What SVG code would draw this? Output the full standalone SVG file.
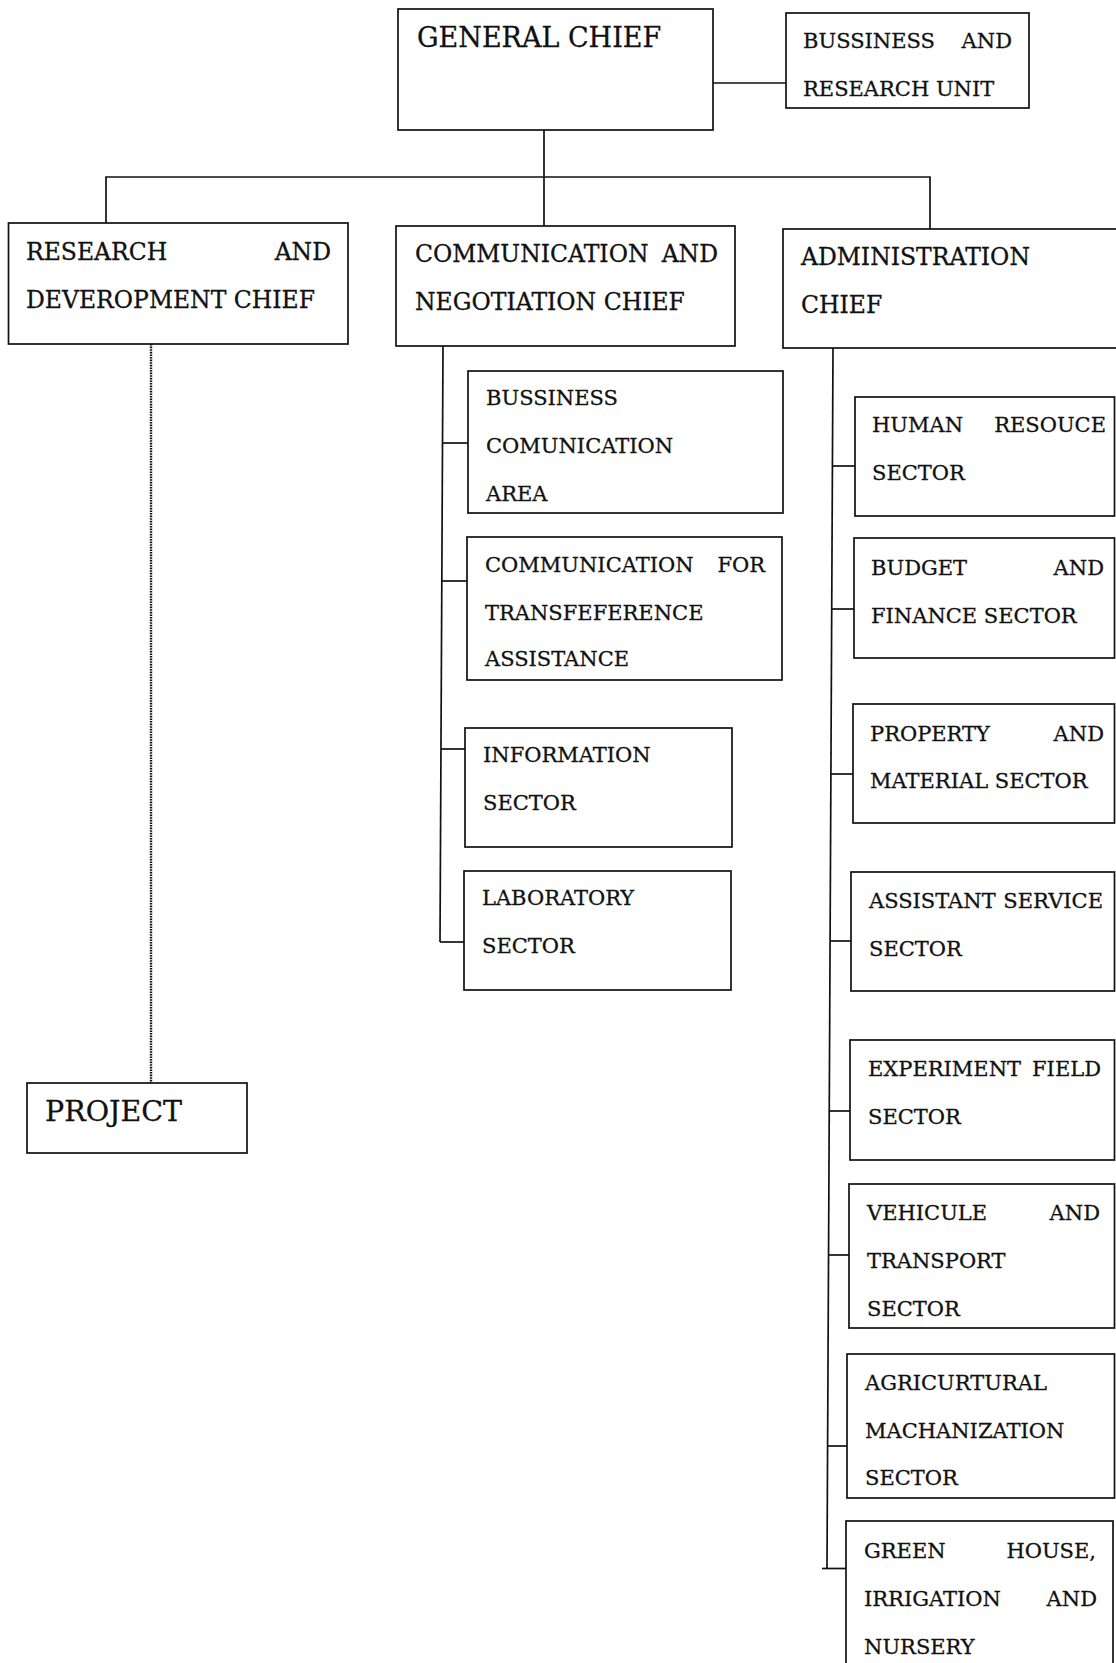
<svg xmlns="http://www.w3.org/2000/svg" width="1116" height="1663" viewBox="0 0 1116 1663">
<style>
  .box { fill: #ffffff; stroke: #111111; stroke-width: 1.7; }
  .ln { fill: none; stroke: #111111; stroke-width: 1.7; }
  .dot { fill: none; stroke: #111111; stroke-width: 2.4; stroke-dasharray: 1.6 1; }
  text { font-family: "DejaVu Serif", "Liberation Serif", serif; fill: #111111; stroke: #111111; stroke-width: 0.3; }
  .big { font-size: 27px; }
  .proj { font-size: 28.5px; }
  .chief { font-size: 23.5px; }
  .sub { font-size: 21px; }
  .r { text-anchor: end; }
</style>
<rect width="1116" height="1663" fill="#ffffff"/>

<g id="connectors">
  <line class="ln" x1="713" y1="83" x2="786" y2="83"/>
  <line class="ln" x1="544" y1="130" x2="544" y2="226"/>
  <polyline class="ln" points="106,223 106,177 930,177 930,229"/>
  <line class="dot" x1="151" y1="344" x2="151" y2="1083"/>
  <line class="ln" x1="443" y1="346" x2="440" y2="942"/>
  <line class="ln" x1="443" y1="443" x2="468" y2="443"/>
  <line class="ln" x1="442" y1="581" x2="467" y2="581"/>
  <line class="ln" x1="441" y1="749" x2="465" y2="749"/>
  <line class="ln" x1="440" y1="942" x2="464" y2="942"/>
  <line class="ln" x1="833" y1="348" x2="827" y2="1569"/>
  <line class="ln" x1="832.4" y1="466" x2="855" y2="466"/>
  <line class="ln" x1="831.7" y1="609" x2="854" y2="609"/>
  <line class="ln" x1="830.9" y1="774" x2="853" y2="774"/>
  <line class="ln" x1="830.1" y1="941" x2="851" y2="941"/>
  <line class="ln" x1="829.2" y1="1111" x2="850" y2="1111"/>
  <line class="ln" x1="828.5" y1="1255" x2="849" y2="1255"/>
  <line class="ln" x1="827.6" y1="1446" x2="847" y2="1446"/>
  <line class="ln" x1="822" y1="1568.5" x2="846" y2="1568.5"/>
</g>

<g id="general-chief">
  <rect class="box" x="398" y="9" width="315" height="121"/>
  <text class="big" x="417" y="47">GENERAL CHIEF</text>
</g>

<g id="business-research-unit">
  <rect class="box" x="786" y="13" width="243" height="95"/>
  <text class="sub" x="803" y="48">BUSSINESS</text>
  <text class="sub r" x="1012" y="48">AND</text>
  <text class="sub" x="803" y="96">RESEARCH UNIT</text>
</g>

<g id="research-development-chief">
  <rect class="box" x="8.5" y="223" width="339.5" height="121"/>
  <text class="chief" x="26" y="260">RESEARCH</text>
  <text class="chief r" x="331" y="260">AND</text>
  <text class="chief" x="26" y="308">DEVEROPMENT CHIEF</text>
</g>

<g id="communication-negotiation-chief">
  <rect class="box" x="396" y="226" width="339" height="120"/>
  <text class="chief" x="415" y="262">COMMUNICATION</text>
  <text class="chief r" x="718" y="262">AND</text>
  <text class="chief" x="415" y="310">NEGOTIATION CHIEF</text>
</g>

<g id="administration-chief">
  <rect class="box" x="783" y="229" width="340" height="119"/>
  <text class="chief" x="801" y="265">ADMINISTRATION</text>
  <text class="chief" x="801" y="313">CHIEF</text>
</g>

<g id="project">
  <rect class="box" x="27" y="1083" width="220" height="70"/>
  <text class="proj" x="45" y="1121">PROJECT</text>
</g>

<g id="business-communication-area">
  <rect class="box" x="468" y="371" width="315" height="142"/>
  <text class="sub" x="486" y="405">BUSSINESS</text>
  <text class="sub" x="486" y="453">COMUNICATION</text>
  <text class="sub" x="486" y="501">AREA</text>
</g>

<g id="communication-transference-assistance">
  <rect class="box" x="467" y="537" width="315" height="143"/>
  <text class="sub" x="485" y="572">COMMUNICATION</text>
  <text class="sub r" x="765" y="572">FOR</text>
  <text class="sub" x="485" y="620">TRANSFEFERENCE</text>
  <text class="sub" x="485" y="666">ASSISTANCE</text>
</g>

<g id="information-sector">
  <rect class="box" x="465" y="728" width="267" height="119"/>
  <text class="sub" x="483" y="762">INFORMATION</text>
  <text class="sub" x="483" y="810">SECTOR</text>
</g>

<g id="laboratory-sector">
  <rect class="box" x="464" y="871" width="267" height="119"/>
  <text class="sub" x="482" y="905">LABORATORY</text>
  <text class="sub" x="482" y="953">SECTOR</text>
</g>

<g id="human-resouce-sector">
  <rect class="box" x="855" y="397" width="259.5" height="119"/>
  <text class="sub" x="872" y="432">HUMAN</text>
  <text class="sub r" x="1106" y="432">RESOUCE</text>
  <text class="sub" x="872" y="480">SECTOR</text>
</g>

<g id="budget-finance-sector">
  <rect class="box" x="854" y="538" width="260.5" height="120"/>
  <text class="sub" x="871" y="575">BUDGET</text>
  <text class="sub r" x="1104" y="575">AND</text>
  <text class="sub" x="871" y="623">FINANCE SECTOR</text>
</g>

<g id="property-material-sector">
  <rect class="box" x="853" y="704" width="261.5" height="119"/>
  <text class="sub" x="870" y="741">PROPERTY</text>
  <text class="sub r" x="1104" y="741">AND</text>
  <text class="sub" x="870" y="788">MATERIAL SECTOR</text>
</g>

<g id="assistant-service-sector">
  <rect class="box" x="851" y="872" width="263.5" height="119"/>
  <text class="sub" x="869" y="908">ASSISTANT</text>
  <text class="sub r" x="1103" y="908">SERVICE</text>
  <text class="sub" x="869" y="956">SECTOR</text>
</g>

<g id="experiment-field-sector">
  <rect class="box" x="850" y="1040" width="264.5" height="120"/>
  <text class="sub" x="868" y="1076">EXPERIMENT</text>
  <text class="sub r" x="1101" y="1076">FIELD</text>
  <text class="sub" x="868" y="1124">SECTOR</text>
</g>

<g id="vehicule-transport-sector">
  <rect class="box" x="849" y="1184" width="265.5" height="144"/>
  <text class="sub" x="867" y="1220">VEHICULE</text>
  <text class="sub r" x="1100" y="1220">AND</text>
  <text class="sub" x="867" y="1268">TRANSPORT</text>
  <text class="sub" x="867" y="1316">SECTOR</text>
</g>

<g id="agricurtural-machanization-sector">
  <rect class="box" x="847" y="1354" width="267.5" height="144"/>
  <text class="sub" x="865" y="1390">AGRICURTURAL</text>
  <text class="sub" x="865" y="1438">MACHANIZATION</text>
  <text class="sub" x="865" y="1485">SECTOR</text>
</g>

<g id="green-house-irrigation-nursery">
  <rect class="box" x="846" y="1521" width="267" height="160"/>
  <text class="sub" x="864" y="1558">GREEN</text>
  <text class="sub r" x="1096" y="1558">HOUSE,</text>
  <text class="sub" x="864" y="1606">IRRIGATION</text>
  <text class="sub r" x="1097" y="1606">AND</text>
  <text class="sub" x="864" y="1654">NURSERY</text>
</g>
</svg>
